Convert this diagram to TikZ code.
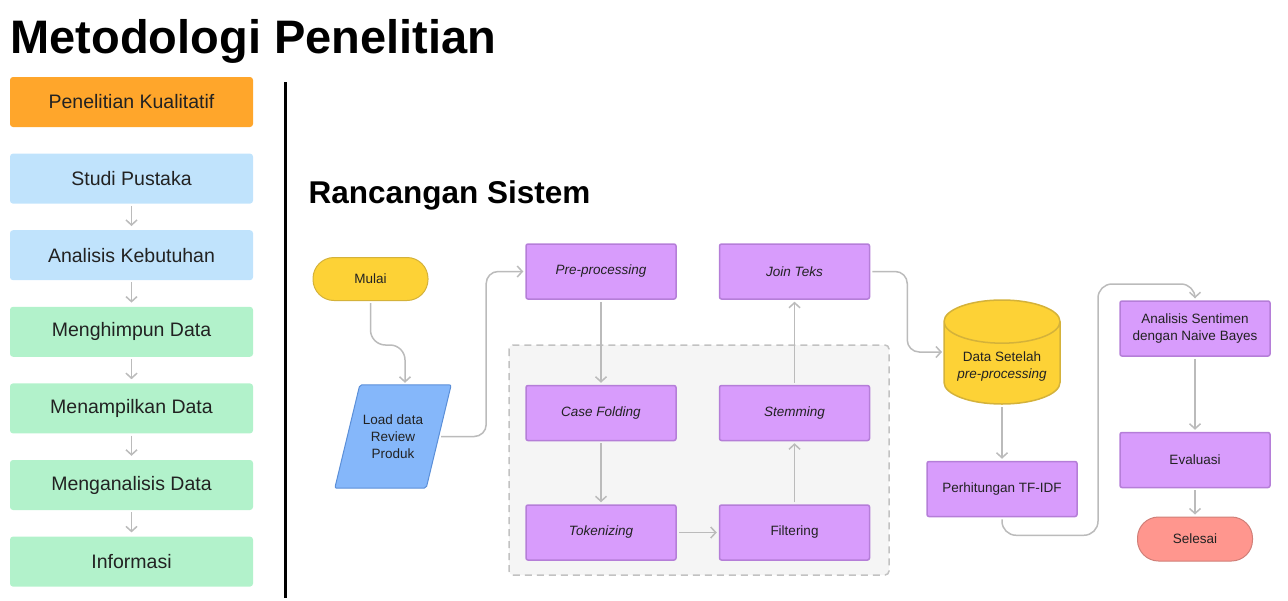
\documentclass[tikz,border=0pt]{standalone}
\usepackage{fontspec}
\setmainfont{Liberation Sans}
\usetikzlibrary{positioning,arrows.meta,shapes.geometric,backgrounds}
\definecolor{oranye}{HTML}{FFA62B}
\definecolor{birumuda}{HTML}{C0E3FC}
\definecolor{hijaumuda}{HTML}{B2F2CB}
\definecolor{kuning}{HTML}{FDD236}
\definecolor{kuninggaris}{HTML}{D4B23A}
\definecolor{biru}{HTML}{85B7FA}
\definecolor{birugaris}{HTML}{5B8FD8}
\definecolor{ungu}{HTML}{D89CFC}
\definecolor{ungugaris}{HTML}{B57ED8}
\definecolor{salem}{HTML}{FF968E}
\definecolor{salemgaris}{HTML}{D07F78}
\definecolor{abu}{HTML}{BBBBBB}
\definecolor{teks}{HTML}{222222}
\tikzset{
    kolom/.style = {
        minimum width=243pt,
        minimum height=50pt,
        rounded corners=3pt,
        text=teks,
        font=\fontsize{19.5}{23}\selectfont,
        },
    metode/.style = {
        kolom,
        fill = oranye,
        },
    tahap biru/.style = {
        kolom,
        fill = birumuda,
        },
    tahap hijau/.style = {
        kolom,
        fill = hijaumuda,
        },
    proses/.style = {
        draw = ungugaris,
        fill = ungu,
        line width=1.5pt,
        rounded corners=2pt,
        minimum width=150pt,
        minimum height=55pt,
        text=teks,
        align=center,
        font=\fontsize{13.5}{17}\selectfont,
        },
    terminal/.style = {
        line width=1pt,
        rounded corners=21pt,
        minimum width=115pt,
        minimum height=43pt,
        text=teks,
        font=\fontsize{13.5}{17}\selectfont,
        },
    panah/.style = {
        draw=abu,
        line width=1.5pt,
        ->,
        shorten >=2pt,
        shorten <=2pt,
        },
}

\begin{document}
\begin{tikzpicture}[x=1pt,y=-1pt,>={Straight Barb[length=5pt,width=11pt]}]
    \useasboundingbox (0,0) rectangle (1288,600);

    \node[anchor=west, font=\bfseries\fontsize{47}{52}\selectfont] (judul) at (7,41) {Metodologi Penelitian};

    % kolom metodologi
    \node[metode] (kual) at (131.5,102) {Penelitian Kualitatif};
    \node[tahap biru, below=26.2pt of kual] (studi) {Studi Pustaka};
    \node[tahap biru, below=26.2pt of studi] (analisis) {Analisis Kebutuhan};
    \node[tahap hijau, below=26.2pt of analisis] (himpun) {Menghimpun Data};
    \node[tahap hijau, below=26.2pt of himpun] (tampil) {Menampilkan Data};
    \node[tahap hijau, below=26.2pt of tampil] (analisa) {Menganalisis Data};
    \node[tahap hijau, below=26.2pt of analisa] (info) {Informasi};

    \draw[panah, shorten >=4pt] (studi) -- (analisis);
    \draw[panah, shorten >=4pt] (analisis) -- (himpun);
    \draw[panah, shorten >=4pt] (himpun) -- (tampil);
    \draw[panah, shorten >=4pt] (tampil) -- (analisa);
    \draw[panah, shorten >=4pt] (analisa) -- (info);

    \draw[line width=3pt] (285,82) -- (285,598);

    % rancangan sistem
    \node[anchor=west, font=\bfseries\fontsize{31.5}{36}\selectfont] (rancang) at (305,195) {Rancangan Sistem};

    \node[terminal, draw=kuninggaris, fill=kuning] (mulai) at (370.5,279) {Mulai};
    \node[minimum width=116pt, minimum height=103pt, text=teks, align=center,
          font=\fontsize{13.5}{17}\selectfont] (load) at (393,436.5) {Load data\\Review\\Produk};
    \node[proses] (prep) at (601,271.5) {\itshape Pre-processing};
    \node[proses, below=85pt of prep] (casef) {\itshape Case Folding};
    \node[proses, below=63pt of casef] (token) {\itshape Tokenizing};
    \node[proses, right=42pt of token] (filter) {Filtering};
    \node[proses, above=63pt of filter] (stem) {\itshape Stemming};
    \node[proses, above=85pt of stem] (join) {\itshape Join Teks};

    \begin{scope}[on background layer]
        \draw[abu!90, fill=black!4, line width=1.5pt, dash pattern=on 7pt off 5pt, rounded corners=4pt]
            (509,345) rectangle (889,575);
        \draw[birugaris, fill=biru, line width=1pt, rounded corners=2pt]
            (load.south west) -- ([xshift=25pt]load.north west) -- (load.north east)
            -- ([xshift=-25pt]load.south east) -- cycle;
    \end{scope}

    \node[cylinder, shape border rotate=90, aspect=0.45, draw=kuninggaris, fill=kuning, line width=1.5pt,
          minimum width=116pt, minimum height=104pt, text=teks, align=center, anchor=shape center,
          font=\fontsize{13.5}{17}\selectfont] (hasil) at (1002,352) {Data Setelah\\\itshape pre-processing};
    \node[proses] (tfidf) at (1002,489) {Perhitungan TF-IDF};
    \node[proses] (sentimen) at (1195,328.5) {Analisis Sentimen\\dengan Naive Bayes};
    \node[proses] (eval) at (1195,460) {Evaluasi};
    \node[terminal, draw=salemgaris, fill=salem, minimum height=44pt] (selesai) at (1195,539) {Selesai};
    \coordinate (belok) at (1098,284);

    \draw[panah, rounded corners=15pt] (mulai.south) -- ++(0,44) -| ([xshift=12pt]load.north);
    \draw[panah, rounded corners=12pt] ([xshift=-12pt]load.east) -- ++(47,0) |- (prep.west);
    \draw[panah] (prep) -- (casef);
    \draw[panah] (casef) -- (token);
    \draw[panah] (token) -- (filter);
    \draw[panah] (filter) -- (stem);
    \draw[panah] (stem) -- (join);
    \draw[panah, rounded corners=12pt] (join.east) -- ++(37,0) |- ([xshift=-58pt]hasil.shape center);
    \draw[panah] (hasil) -- (tfidf);
    \draw[panah, rounded corners=14pt] (tfidf.south) -- ++(0,18) -| (belok) -| (sentimen.north);
    \draw[panah] (sentimen) -- (eval);
    \draw[panah] (eval) -- (selesai);
\end{tikzpicture}
\end{document}
